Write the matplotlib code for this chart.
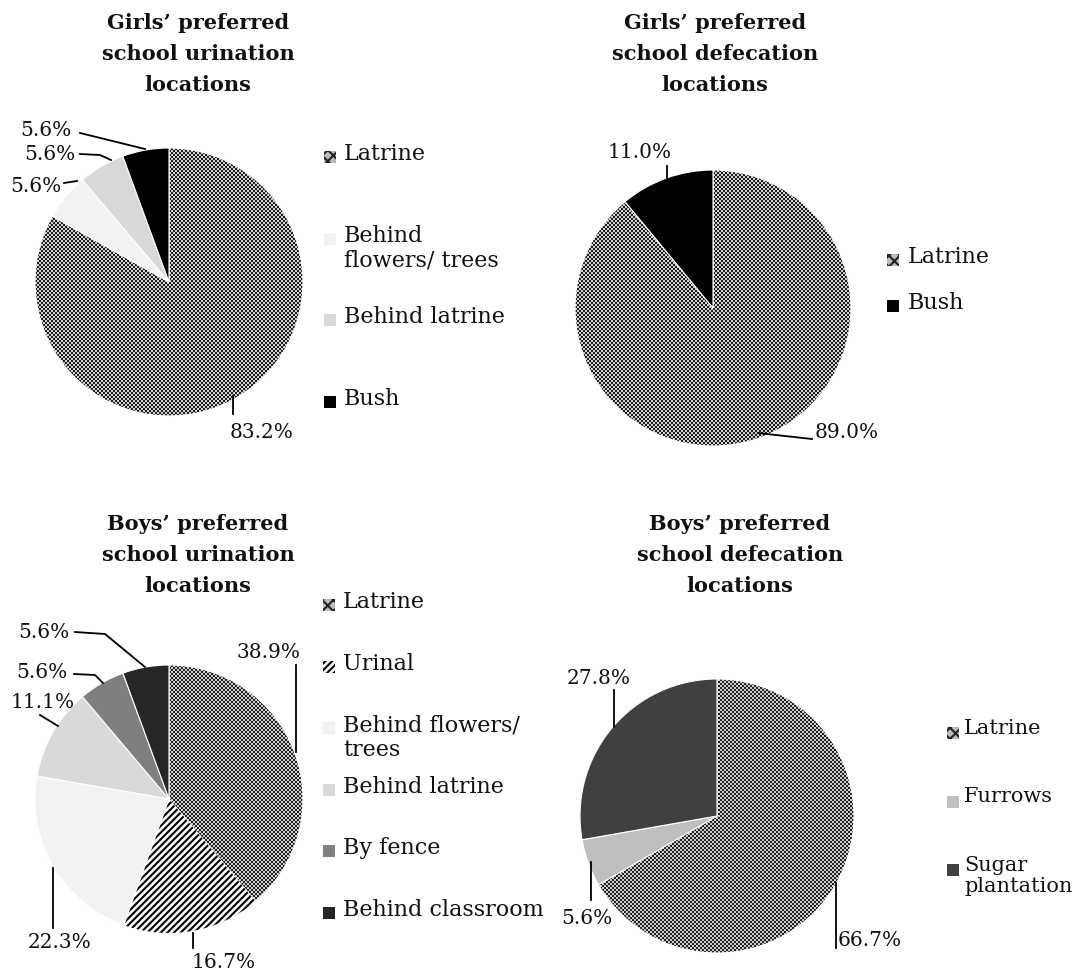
import numpy as np
import matplotlib
matplotlib.use("Agg")
import matplotlib.pyplot as plt
from matplotlib.patches import Rectangle
from matplotlib.lines import Line2D

# ---------------- data ----------------
gu_labels = ["Latrine", "Behind\nflowers/ trees", "Behind latrine", "Bush"]
gu_values = [83.2, 5.6, 5.6, 5.6]

gd_labels = ["Latrine", "Bush"]
gd_values = [89.0, 11.0]

bu_labels = ["Latrine", "Urinal", "Behind flowers/\ntrees", "Behind latrine", "By fence", "Behind classroom"]
bu_values = [38.9, 16.7, 22.3, 11.1, 5.6, 5.6]

bd_labels = ["Latrine", "Furrows", "Sugar\nplantation"]
bd_values = [66.7, 5.6, 27.8]

# ---------------- styles ----------------
plt.rcParams["font.family"] = ["DejaVu Serif"]
plt.rcParams["hatch.linewidth"] = 1.5

W, H = 1073, 974
fig = plt.figure(figsize=(W / 100, H / 100), dpi=100)
fig.patch.set_facecolor("white")

FILL = {
    "Latrine": "checker",
    "Urinal": "stripes",
    "Behind\nflowers/ trees": "#f2f2f2",
    "Behind flowers/\ntrees": "#f2f2f2",
    "Behind latrine": "#d9d9d9",
    "Bush": "#000000",
    "By fence": "#7f7f7f",
    "Behind classroom": "#262626",
    "Furrows": "#bfbfbf",
    "Sugar\nplantation": "#404040",
}


def fx(px):
    return px / W


def fy(py):
    return 1 - py / H


def draw_pie(cx, cy, r, labels, values):
    pad = 10
    side = 2 * (r + pad)
    ax = fig.add_axes([fx(cx - r - pad), fy(cy + r + pad), side / W, side / H])
    colors = []
    for lab in labels:
        f = FILL[lab]
        colors.append("white" if f in ("checker", "stripes") else f)
    wedges, _ = ax.pie(values, startangle=90, counterclock=False, colors=colors,
                       wedgeprops=dict(edgecolor="white", linewidth=0.8))
    lim = (r + pad) / r
    ax.set_xlim(-lim, lim)
    ax.set_ylim(-lim, lim)
    ax.set_aspect("equal")
    ax.axis("off")
    for w, lab in zip(wedges, labels):
        f = FILL[lab]
        if f == "checker":
            n = side // 2
            ii, jj = np.indices((n, n))
            board = np.where((ii + jj) % 2 == 0, 0.12, 0.82)
            im = ax.imshow(board, cmap="gray", vmin=0, vmax=1,
                           extent=(-lim, lim, -lim, lim), interpolation="nearest",
                           zorder=0.5)
            im.set_clip_path(w)
            w.set_facecolor("none")
            w.set_zorder(1)
        elif f == "stripes":
            w.set_facecolor("white")
            w.set_edgecolor("black")
            w.set_linewidth(0)
            w.set_hatch("/////")
    return ax


def legend(x_sq, x_txt, y0, step, labels, fs=16):
    for i, lab in enumerate(labels):
        y = y0 + i * step
        f = FILL[lab]
        sq = 12
        xy = (fx(x_sq), fy(y + sq / 2))
        if f == "checker":
            rect = Rectangle(xy, sq / W, sq / H, transform=fig.transFigure,
                             facecolor="#bbbbbb", edgecolor="#222222", hatch="xxx", linewidth=0)
        elif f == "stripes":
            rect = Rectangle(xy, sq / W, sq / H, transform=fig.transFigure,
                             facecolor="white", edgecolor="black", hatch="/////", linewidth=0)
        else:
            rect = Rectangle(xy, sq / W, sq / H, transform=fig.transFigure,
                             facecolor=f, edgecolor="none")
        fig.patches.append(rect)
        fig.text(fx(x_txt), fy(y - 14), lab, ha="left", va="top", fontsize=fs,
                 linespacing=1.15, color="#111111")


def pct(text, x, y, ha="center"):
    fig.text(fx(x), fy(y), text, ha=ha, va="center", fontsize=14.5, color="#111111")


def leader(pts):
    xs = [fx(p[0]) for p in pts]
    ys = [fy(p[1]) for p in pts]
    fig.lines.append(Line2D(xs, ys, transform=fig.transFigure, color="black", linewidth=1.3))


def title(text, x, y):
    fig.text(fx(x), fy(y), text, ha="center", va="center", fontsize=15, fontweight="bold",
             linespacing=1.66, color="#111111")


# ---- Girls urination ----
draw_pie(169, 282, 134, gu_labels, gu_values)
title("Girls’ preferred\nschool urination\nlocations", 198, 54)
legend(324, 344, 157, 81.7, gu_labels)
pct("83.2%", 262, 432)
leader([(233, 396), (233, 414)])
pct("5.6%", 72, 131, ha="right")
leader([(80, 133), (145, 149)])
pct("5.6%", 76, 155, ha="right")
leader([(80, 154), (100, 155), (111, 160)])
pct("5.6%", 62, 186, ha="right")
leader([(64, 183), (77, 181)])

# ---- Girls defecation ----
draw_pie(713, 308, 138, gd_labels, gd_values)
title("Girls’ preferred\nschool defecation\nlocations", 715, 54)
legend(887, 908, 260, 46, gd_labels)
pct("11.0%", 640, 152)
leader([(667, 166), (667, 181)])
pct("89.0%", 815, 433, ha="left")
leader([(758, 433), (812, 439)])

# ---- Boys urination ----
draw_pie(169, 799, 134, bu_labels, bu_values)
title("Boys’ preferred\nschool urination\nlocations", 198, 555)
legend(323, 343, 605, 61.6, bu_labels)
pct("38.9%", 268, 652)
leader([(296, 665), (296, 752)])
pct("5.6%", 70, 632, ha="right")
leader([(75, 632), (105, 634), (145, 667)])
pct("5.6%", 68, 672, ha="right")
leader([(74, 674), (95, 675), (103, 683)])
pct("11.1%", 75, 702, ha="right")
leader([(40, 715), (58, 726)])
pct("22.3%", 60, 943)
leader([(53, 868), (53, 928)])
pct("16.7%", 224, 963)
leader([(193, 933), (193, 948)])

# ---- Boys defecation ----
draw_pie(717, 816, 137, bd_labels, bd_values)
title("Boys’ preferred\nschool defecation\nlocations", 740, 555)
legend(947, 964, 733, 68.5, bd_labels, fs=15)
pct("27.8%", 599, 679)
leader([(614, 690), (614, 727)])
pct("5.6%", 587, 918)
leader([(591, 862), (591, 900)])
pct("66.7%", 838, 940, ha="left")
leader([(836, 883), (836, 948)])

fig.savefig("out.png", dpi=100, facecolor="white")
